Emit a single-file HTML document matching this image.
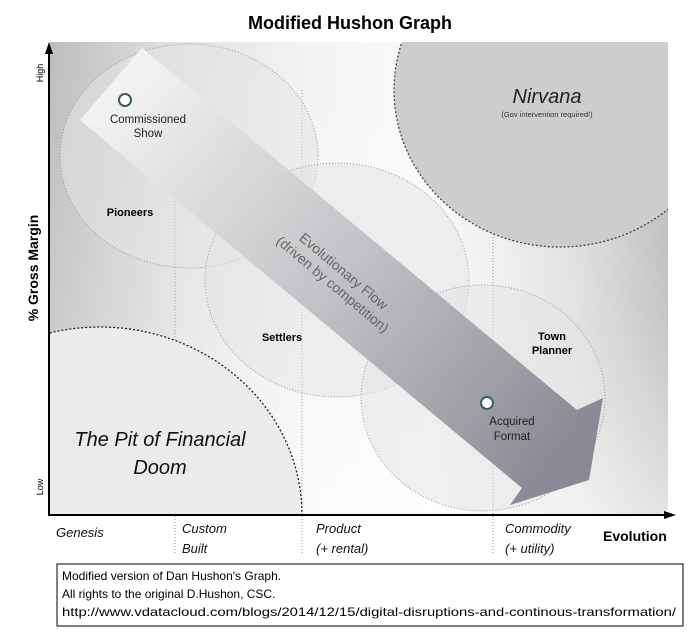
<!DOCTYPE html>
<html><head><meta charset="utf-8"><style>
html,body{margin:0;padding:0;background:#fff;width:700px;height:640px;overflow:hidden;}
svg{display:block;}
svg text{font-family:"Liberation Sans",sans-serif;}
</style></head><body>
<svg width="700" height="640" viewBox="0 0 700 640" xmlns="http://www.w3.org/2000/svg">
<defs>
<linearGradient id="bg" x1="0" y1="0" x2="1" y2="0">
<stop offset="0" stop-color="#bdbdbd"/>
<stop offset="0.2" stop-color="#e0e0e0"/>
<stop offset="0.42" stop-color="#f4f4f4"/>
<stop offset="0.62" stop-color="#fafafa"/>
<stop offset="0.85" stop-color="#dcdcdc"/>
<stop offset="1" stop-color="#b8b8b8"/>
</linearGradient>
<linearGradient id="vbg" x1="0" y1="0" x2="0" y2="1">
<stop offset="0" stop-color="#fff" stop-opacity="0"/>
<stop offset="0.6" stop-color="#fff" stop-opacity="0.2"/>
<stop offset="1" stop-color="#fff" stop-opacity="0.6"/>
</linearGradient>
<linearGradient id="arr" gradientUnits="userSpaceOnUse" x1="110" y1="84" x2="560" y2="460">
<stop offset="0" stop-color="#f6f6f6" stop-opacity="0.9"/>
<stop offset="0.45" stop-color="#c4c4c8" stop-opacity="0.9"/>
<stop offset="1" stop-color="#85858f" stop-opacity="0.95"/>
</linearGradient>
</defs>
<text x="350" y="29" text-anchor="middle" font-size="18" font-weight="bold">Modified Hushon Graph</text>
<path d="M50,42 H660 Q668,42 668,50 V504 Q668,514 658,514 H50 Z" fill="url(#bg)"/>
<rect x="50" y="42" width="618" height="472" fill="url(#vbg)"/>
<g stroke="#999" stroke-width="1" stroke-dasharray="1,2" fill="none">
<line x1="175" y1="90" x2="175" y2="555"/>
<line x1="302" y1="90" x2="302" y2="555"/>
<line x1="493" y1="90" x2="493" y2="555"/>
</g>
<clipPath id="pc"><rect x="50" y="42" width="618" height="472"/></clipPath>
<g clip-path="url(#pc)">
<ellipse cx="560" cy="90" rx="166" ry="157" fill="#cdcdcd" stroke="#444" stroke-width="1.3" stroke-dasharray="2,2"/>
<ellipse cx="100" cy="515" rx="202" ry="188" fill="#ebebeb" stroke="#222" stroke-width="1.3" stroke-dasharray="2,2"/>
<ellipse cx="189" cy="156" rx="129" ry="112" fill="#e4e4e4" fill-opacity="0.55" stroke="#999" stroke-dasharray="1,2"/>
<ellipse cx="337" cy="280" rx="132" ry="117" fill="#e4e4e4" fill-opacity="0.55" stroke="#999" stroke-dasharray="1,2"/>
<ellipse cx="483" cy="398" rx="122" ry="113" fill="#e4e4e4" fill-opacity="0.55" stroke="#999" stroke-dasharray="1,2"/>
</g>
<polygon points="142,48 577,410 603,398 589,480 510,505 522,488 80,120" fill="url(#arr)"/>
<text transform="translate(338,278) rotate(40)" text-anchor="middle" font-size="14" fill="#666"><tspan x="0" y="-4">Evolutionary Flow</tspan><tspan x="0" y="13">(driven by competition)</tspan></text>
<circle cx="125" cy="100" r="6" fill="#fff" stroke="#3c5c62" stroke-width="2"/>
<text x="148" y="123" text-anchor="middle" font-size="11.5" fill="#222">Commissioned</text>
<text x="148" y="137" text-anchor="middle" font-size="11.5" fill="#222">Show</text>
<circle cx="487" cy="403" r="6" fill="#fff" stroke="#3c5c62" stroke-width="2"/>
<text x="512" y="425" text-anchor="middle" font-size="11.5" fill="#222">Acquired</text>
<text x="512" y="440" text-anchor="middle" font-size="11.5" fill="#222">Format</text>
<text x="130" y="216" text-anchor="middle" font-size="11" font-weight="bold">Pioneers</text>
<text x="282" y="341" text-anchor="middle" font-size="11" font-weight="bold">Settlers</text>
<text x="552" y="340" text-anchor="middle" font-size="11" font-weight="bold">Town</text>
<text x="552" y="354" text-anchor="middle" font-size="11" font-weight="bold">Planner</text>
<text x="547" y="103" text-anchor="middle" font-size="20" font-style="italic" fill="#222">Nirvana</text>
<text x="547" y="117" text-anchor="middle" font-size="7.5" fill="#333">(Gov intervention required!)</text>
<text x="160" y="446" text-anchor="middle" font-size="20" font-style="italic" fill="#111">The Pit of Financial</text>
<text x="160" y="474" text-anchor="middle" font-size="20" font-style="italic" fill="#111">Doom</text>
<line x1="49" y1="515" x2="49" y2="52" stroke="#000" stroke-width="2"/>
<polygon points="49,42 45,54 53,54" fill="#000"/>
<line x1="48" y1="515" x2="666" y2="515" stroke="#000" stroke-width="2"/>
<polygon points="676,515 664,511 664,519" fill="#000"/>
<text transform="translate(43,73) rotate(-90)" text-anchor="middle" font-size="9">High</text>
<text transform="translate(43,487) rotate(-90)" text-anchor="middle" font-size="9">Low</text>
<text transform="translate(38,268) rotate(-90)" text-anchor="middle" font-size="14" font-weight="bold">% Gross Margin</text>
<g font-size="13" font-style="italic" fill="#111">
<text x="56" y="537">Genesis</text>
<text x="182" y="533">Custom</text><text x="182" y="553">Built</text>
<text x="316" y="533">Product</text><text x="316" y="553">(+ rental)</text>
<text x="505" y="533">Commodity</text><text x="505" y="553">(+ utility)</text>
</g>
<text x="603" y="541" font-size="14" font-weight="bold">Evolution</text>
<rect x="57" y="564" width="626" height="62" fill="#fff" stroke="#000" stroke-width="1"/>
<g font-size="12" fill="#000">
<text x="62" y="580">Modified version of Dan Hushon's Graph.</text>
<text x="62" y="598">All rights to the original D.Hushon, CSC.</text>
<text x="62" y="616" textLength="614" lengthAdjust="spacingAndGlyphs">http://www.vdatacloud.com/blogs/2014/12/15/digital-disruptions-and-continous-transformation/</text>
</g>
</svg>
</body></html>
